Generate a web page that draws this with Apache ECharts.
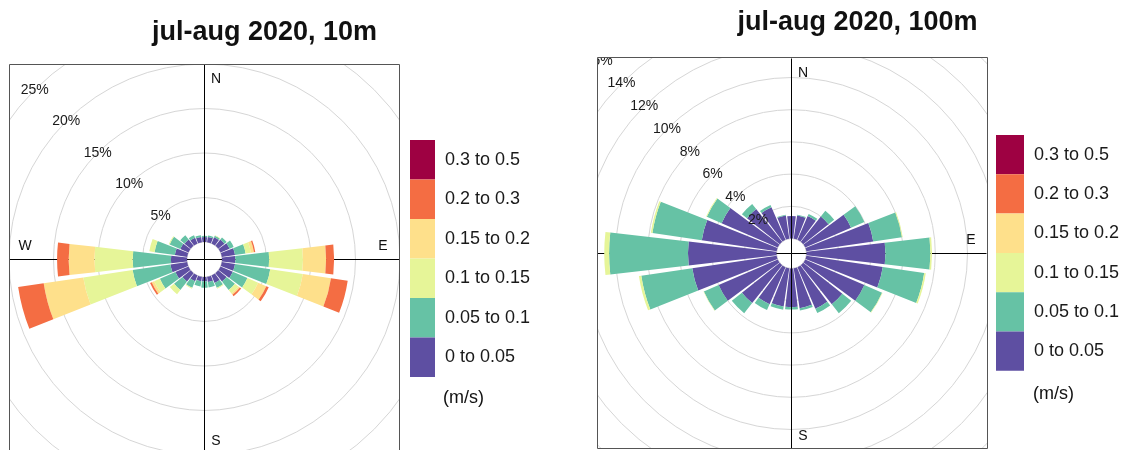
<!DOCTYPE html>
<html><head><meta charset="utf-8">
<script src="https://cdn.jsdelivr.net/npm/echarts@6/dist/echarts.min.js"></script>
<style>html,body{margin:0;padding:0;background:#fff}#c{width:1128px;height:450px}</style>
</head><body><div id="c"></div>
<script>
// wind directions (degrees, clockwise from North)
const directions = ['0','15','30','45','60','75','90','105','120','135','150','165','180','195','210','225','240','255','270','285','300','315','330','345'];
const speedBins = ['0 to 0.05','0.05 to 0.1','0.1 to 0.15','0.15 to 0.2','0.2 to 0.3','0.3 to 0.5'];
const binColors = ['#5E4FA2','#66C2A5','#E6F598','#FEE08B','#F46D43','#9E0142'];

// 10 m, frequency (%) per direction for each speed bin
const m10_b1 = [0.55,0.6,0.75,0.9,1.1,1.5,1.5,1.5,1.5,1.2,0.9,0.6,0.5,0.5,0.7,1.2,1.6,1.9,1.8,1.4,1.0,0.9,0.7,0.6];
const m10_b2 = [0.15,0.15,0.2,0.3,0.5,1.2,3.8,4.0,1.8,1.2,0.6,0.6,0.7,0.6,0.8,1.2,1.9,4.3,4.3,2.3,1.3,0.6,0.3,0.2];
const m10_b3 = [0,0,0.05,0,0,0.6,3.8,3.7,1.3,0.5,0.1,0,0,0,0.1,0.6,0.7,5.6,4.3,0.6,0.1,0,0,0];
const m10_b4 = [0,0,0,0,0,0.35,2.6,3.2,1.0,0.2,0,0,0,0,0,0,0.3,4.5,2.9,0,0,0,0,0];
const m10_b5 = [0,0,0,0,0,0.15,0.9,1.9,0.3,0.2,0,0,0,0,0,0,0.2,2.9,1.3,0,0,0,0,0];
const m10_b6 = [0,0,0,0,0,0,0,0,0,0,0,0,0,0,0,0,0,0,0,0,0,0,0,0];

// 100 m
const m100_b1 = [1.4,1.45,1.6,2.0,3.1,4.2,4.9,4.8,4.0,3.1,2.8,2.5,2.4,2.4,2.5,3.0,4.0,5.3,5.5,4.7,3.8,2.6,2.2,1.45];
const m100_b2 = [0,0.05,0.15,0.45,0.9,1.8,2.8,2.6,1.2,0.7,0.3,0.15,0.15,0.2,0.4,0.8,1.0,3.2,4.9,3.1,1.0,0.4,0.15,0.05];
const m100_b3 = [0,0,0,0,0,0.05,0.1,0.1,0.03,0,0,0,0,0,0,0,0.03,0.15,0.3,0.1,0.05,0,0,0];
const m100_b4 = [0,0,0,0,0,0,0,0,0,0,0,0,0,0,0,0,0,0,0,0,0,0,0,0];
const m100_b5 = [0,0,0,0,0,0,0,0,0,0,0,0,0,0,0,0,0,0,0,0,0,0,0,0];
const m100_b6 = [0,0,0,0,0,0,0,0,0,0,0,0,0,0,0,0,0,0,0,0,0,0,0,0];

const ringMax10 = 25, ringStep10 = 5;
const ringMax100 = 16, ringStep100 = 2;

const charts = [
  {center:[204.5,259.5], inner:17.5, outer:240, box:195, max:ringMax10, step:ringStep10,
   bins:[m10_b1,m10_b2,m10_b3,m10_b4,m10_b5,m10_b6]},
  {center:[791.5,253.5], inner:15, outer:272.6, box:195, max:ringMax100, step:ringStep100,
   bins:[m100_b1,m100_b2,m100_b3,m100_b4,m100_b5,m100_b6]}
];

const polar=[], angleAxis=[], radiusAxis=[], series=[];
const FONT = '"Liberation Sans", Arial, sans-serif';
charts.forEach((c,ci)=>{
  const base = ci*4;
  // data + rings
  polar.push({center:c.center, radius:[c.inner,c.outer]});
  angleAxis.push({polarIndex:base, type:'category', data:directions, startAngle:97.5, clockwise:true,
    axisLine:{show:false}, axisTick:{show:false}, axisLabel:{show:false}, splitLine:{show:false}, z:0});
  radiusAxis.push({polarIndex:base, min:0, max:c.max, interval:c.step,
    axisLine:{show:false}, axisTick:{show:false}, axisLabel:{show:false},
    splitLine:{show:true, lineStyle:{color:'#d6d6d6', width:1}}, z:0});
  // ring labels along NW
  polar.push({center:c.center, radius:[c.inner,c.outer]});
  angleAxis.push({polarIndex:base+1, type:'value', min:0, max:360, startAngle:135, show:false});
  radiusAxis.push({polarIndex:base+1, min:0, max:c.max, interval:c.step,
    axisLine:{show:false}, axisTick:{show:false}, splitLine:{show:false},
    axisLabel:{show:true, margin:0, align:'center', verticalAlign:'middle', fontSize:14, color:'#1a1a1a',
      fontFamily:FONT, formatter:v=> v===0 ? '' : v+'%'}, z:5});
  // horizontal axis line (below wedges)
  polar.push({center:c.center, radius:[0,c.box]});
  angleAxis.push({polarIndex:base+2, type:'value', min:0, max:360, interval:180, startAngle:0,
    axisLine:{show:false}, axisTick:{show:false}, axisLabel:{show:false},
    splitLine:{show:true, lineStyle:{color:'#000', width:1}}, z:1});
  radiusAxis.push({polarIndex:base+2, min:0, max:1, show:false});
  // vertical axis line (above wedges)
  polar.push({center:c.center, radius:[0,c.box]});
  angleAxis.push({polarIndex:base+3, type:'value', min:0, max:360, interval:180, startAngle:90,
    axisLine:{show:false}, axisTick:{show:false}, axisLabel:{show:false},
    splitLine:{show:true, lineStyle:{color:'#000', width:1}}, z:5});
  radiusAxis.push({polarIndex:base+3, min:0, max:1, show:false});

  speedBins.forEach((name,bi)=>{
    series.push({type:'bar', coordinateSystem:'polar', polarIndex:base, name:name, stack:'s'+ci,
      data:c.bins[bi].map(v=> v>0 ? v : null), itemStyle:{color:binColors[bi]}, barCategoryGap:'12%', silent:true, z:2});
  });
});

const legendData = speedBins.slice().reverse();
const legendCommon = {orient:'vertical', data:legendData, itemGap:0, icon:'rect', selectedMode:false, padding:0, z:60,
  textStyle:{fontSize:18, color:'#1a1a1a', fontFamily:FONT, padding:[0,0,0,5]}};

function txt(x,y,s,size,bold,align){
  return {type:'text', x:x, y:y, z:70, silent:true,
    style:{text:s, fill:'#111', font:(bold?'bold ':'')+size+'px '+FONT, textAlign:align||'center', textVerticalAlign:'middle'}};
}
function cover(x,y,w,h){ return {type:'rect', z:50, silent:true, shape:{x:x,y:y,width:w,height:h}, style:{fill:'#fff'}}; }
function frame(x,y,w,h){ return {type:'rect', z:65, silent:true, shape:{x:x,y:y,width:w,height:h}, style:{fill:null, stroke:'#555', lineWidth:1}}; }

const graphic = [
  cover(0,0,9,450), cover(399.5,0,197.5,450), cover(987.5,0,141,450),
  cover(9,0,390.5,64), cover(597,0,391,57), cover(597,448.5,391,2),
  frame(9.5,64.5,390,390), frame(597.5,57.5,390,391),
  txt(264.5,33,'jul-aug 2020, 10m',27,true),
  txt(857.5,23,'jul-aug 2020, 100m',27,true),
  txt(216,79,'N',14), txt(383,246,'E',14), txt(216,441,'S',14), txt(25,246,'W',14),
  txt(803,73,'N',14), txt(971,240,'E',14), txt(803,436,'S',14),
  txt(443,398,'(m/s)',18,false,'left'), txt(1033,394,'(m/s)',18,false,'left')
];

const chart = echarts.init(document.getElementById('c'), null, {renderer:'canvas'});
chart.setOption({
  animation:false,
  backgroundColor:'#fff',
  polar:polar, angleAxis:angleAxis, radiusAxis:radiusAxis, series:series,
  legend:[
    Object.assign({left:410, top:140, itemWidth:25, itemHeight:39.5}, legendCommon),
    Object.assign({left:996, top:135, itemWidth:28, itemHeight:39.3}, legendCommon)
  ],
  graphic:graphic
});
</script></body></html>
